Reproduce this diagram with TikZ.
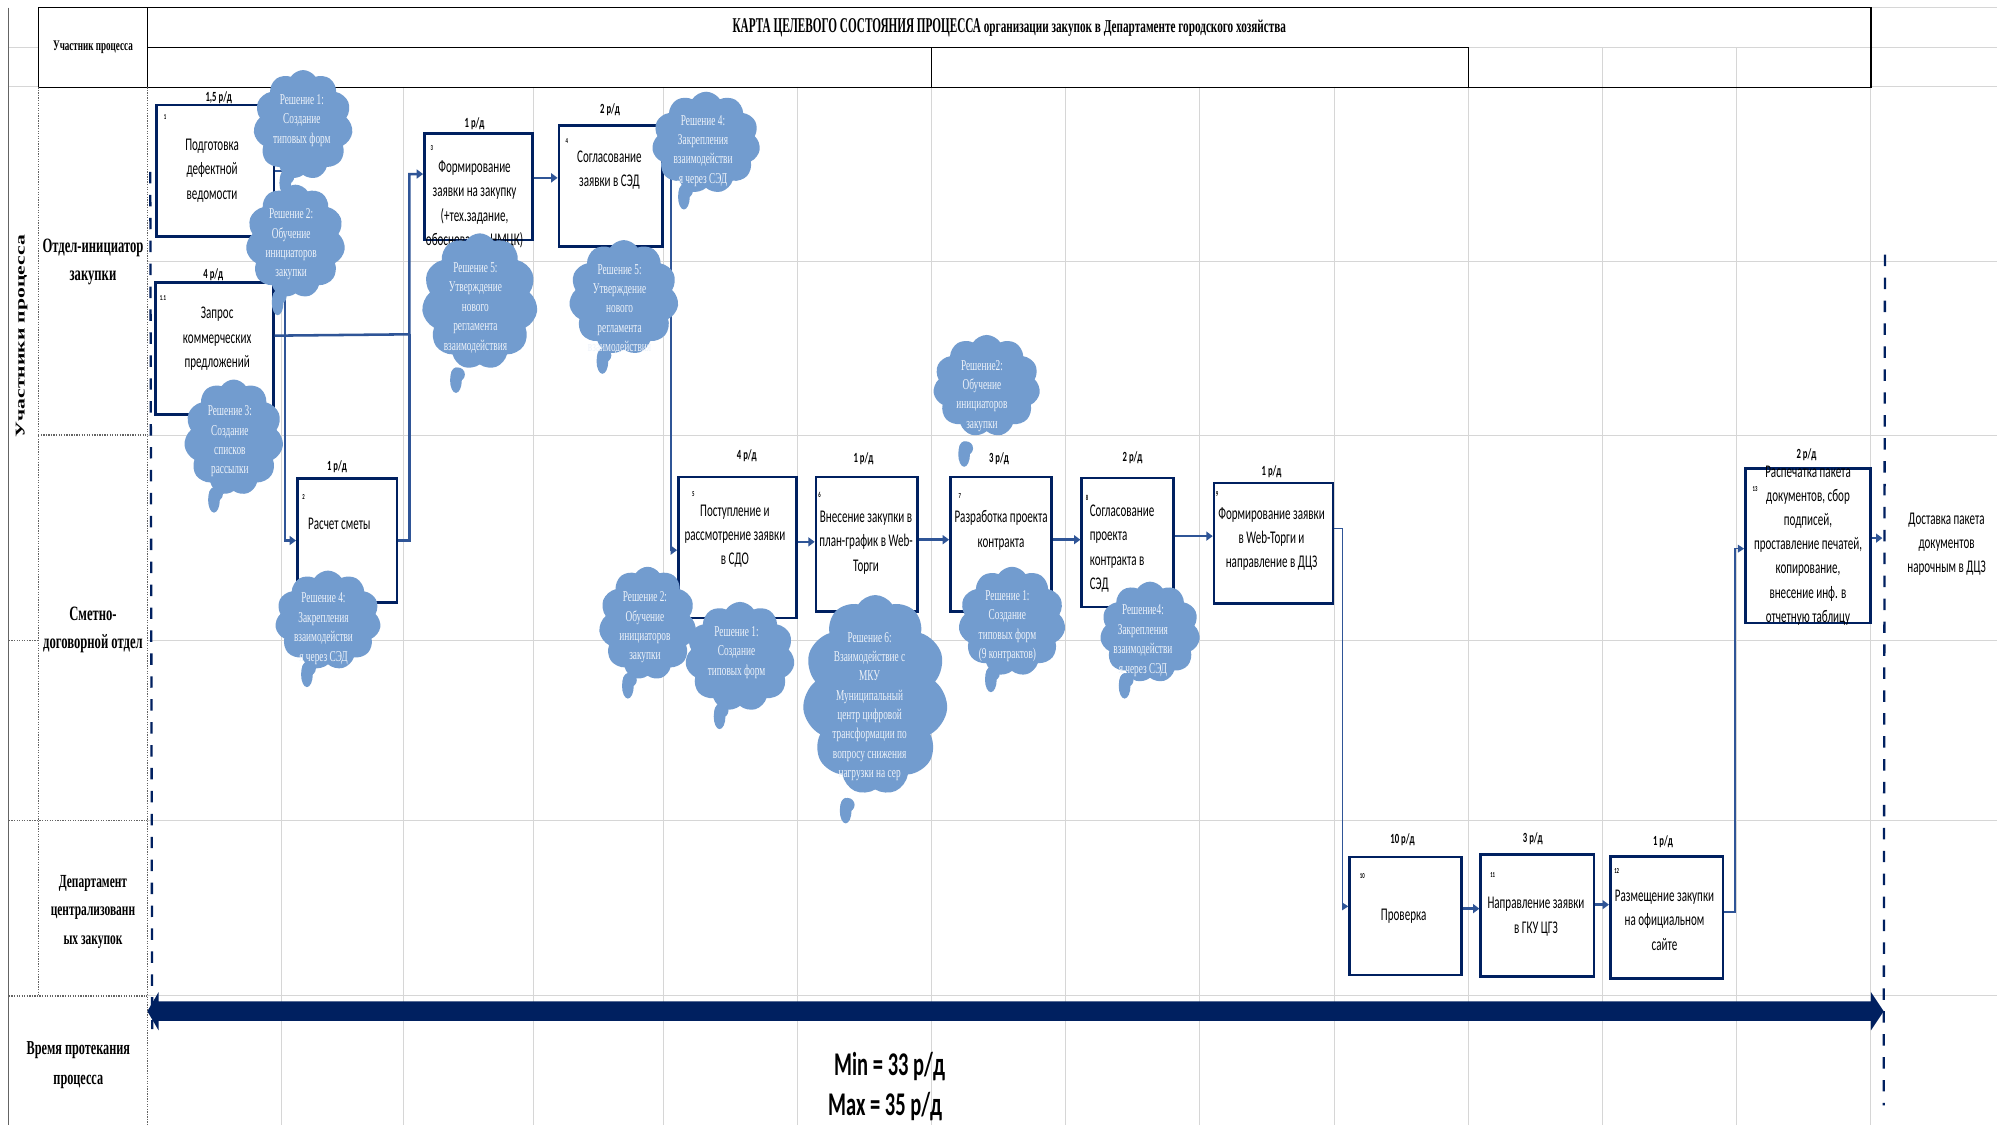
\documentclass[tikz,border=0pt]{standalone}
\usepackage{graphicx}
\usepackage{fontspec}
\usetikzlibrary{shapes.symbols,arrows.meta,calc}
\newfontfamily\cbox[FakeStretch=0.62]{Carlito}
\newfontfamily\cser[FakeStretch=0.62]{Liberation Serif}
\newfontfamily\nser{Liberation Serif}
\definecolor{navy}{RGB}{0,32,96}
\definecolor{connblue}{RGB}{47,85,151}
\definecolor{cloudblue}{RGB}{114,156,207}
\definecolor{cloudtxt}{RGB}{238,243,250}
\definecolor{gridc}{RGB}{214,214,214}
\definecolor{lblc}{RGB}{100,100,100}
\newcommand\procbox[5]{\node[proc, minimum width={(#4)-(#2)}, minimum height={(#5)-(#3)}] (#1) at (#2,#3) {};}
% cloud: name, cx, cy, w, h, tail x, tail tip y
\newcommand\solcloud[7]{%
  \coordinate (#1p) at (#6,#7);
  \fill[cloudblue] ([yshift=9.5pt]#1p) ellipse [x radius=4.6pt, y radius=10pt];
  \fill[cloudblue] ([yshift=14pt,xshift=1.5pt]#1p) circle [radius=5.5pt];
  \node[cloudc, minimum width=#4pt, minimum height=#5pt] (#1) at (#2,#3) {};}
\begin{document}
\begin{tikzpicture}[x=1pt,y=-1pt,
  proc/.style={draw=navy, line width=2pt, fill=white, inner sep=0pt, anchor=north west},
  ptext/.style={font=\cbox\fontsize{14}{19}\selectfont, align=center, inner sep=0pt},
  pnum/.style={font=\cbox\bfseries\fontsize{6}{7}\selectfont, inner sep=0pt},
  pdur/.style={font=\cbox\bfseries\fontsize{11}{12}\selectfont, inner sep=0pt},
  cn/.style={draw=connblue, line width=2pt, -{Triangle[length=5pt,width=7pt]}},
  cnt/.style={draw=connblue, line width=1.2pt, -{Triangle[length=5pt,width=6pt]}},
  cnl/.style={draw=connblue, line width=2pt},
  gridline/.style={draw=gridc, line width=0.8pt},
  dotline/.style={draw=lblc, line width=1pt, densely dotted},
  dashln/.style={draw=navy, line width=1.8pt, dash pattern=on 9pt off 9pt},
  lane/.style={font=\cser\bfseries\fontsize{16}{22}\selectfont, align=center, inner sep=0pt},
  lanes/.style={font=\cser\bfseries\fontsize{14.5}{22.2}\selectfont, align=center, inner sep=0pt},
  cloudc/.style={cloud, cloud puffs=11, cloud puff arc=115, cloud ignores aspect,
    fill=cloudblue, draw=none, inner sep=0pt},
  ctext/.style={font=\cser\fontsize{11.8}{15.2}\selectfont, text=cloudtxt, align=center, inner sep=0pt}
]
\useasboundingbox (0,0) rectangle (1568,883);
\fill[white] (0,0) rectangle (1568,883);

% ---------- grid ----------
\foreach \x in {220.8,316.9,419,521,626.4,731.6,836.7,942,1047.8,1153,1258,1363.6,1469}
  \draw[gridline] (\x,68) -- (\x,883);
\foreach \y in {205,341.6,503,644.4,782}
  \draw[gridline] (115.6,\y) -- (1568,\y);
\draw[gridline] (1469,6) -- (1568,6);
\draw[gridline] (1469,37) -- (1568,37);
\draw[gridline] (1469,68) -- (1568,68);
\draw[gridline] (1153,37) -- (1469,37);
\draw[gridline] (1258,37) -- (1258,68);
\draw[gridline] (1363.6,37) -- (1363.6,68);
\draw[gridline] (7,37) -- (30,37);
\draw[gridline] (7,68) -- (30,68);
% header
\draw[black, line width=1pt] (30,6) rectangle (1469,68.5);
\draw[black, line width=1pt] (115.6,6) -- (115.6,68.5);
\draw[black, line width=0.9pt] (115.6,37) -- (1153,37);
\draw[black, line width=0.9pt] (731.6,37) -- (731.6,68.5);
\draw[black, line width=0.9pt] (1153,37) -- (1153,68.5);
% left columns
\draw[draw=lblc, line width=0.8pt] (7,6) -- (7,883);
\draw[dotline] (30,68.5) -- (30,782);
\draw[dotline] (115.6,68.5) -- (115.6,883);
\draw[dotline] (30,341.6) -- (115.6,341.6);
\draw[dotline] (7,503) -- (30,503);
\draw[dotline] (7,644.4) -- (115.6,644.4);
\draw[dotline] (7,782) -- (115.6,782);

% ---------- header texts ----------
\node[font=\cser\bfseries\fontsize{11.5}{12}\selectfont, inner sep=0pt] (hdr) at (73,37.5) {Участник процесса};
\node[font=\cser\bfseries, inner sep=0pt] (title) at (792.5,22)
  {\fontsize{16.5}{16}\selectfont\scalebox{0.86}[1]{КАРТА ЦЕЛЕВОГО СОСТОЯНИЯ ПРОЦЕССА}\fontsize{14.2}{14}\selectfont{} организации закупок в Департаменте городского хозяйства};
\node[rotate=90, inner sep=0pt] (vlab) at (17,264)
  {\scalebox{1}[0.62]{\nser\bfseries\fontsize{17}{17}\selectfont Участники процесса}};
\node[lane] (l1) at (73,206) {Отдел-инициатор\\закупки};
\node[lane] (l2) at (73,494.5) {Сметно-\\договорной отдел};
\node[lanes] (l3) at (73,716) {Департамент\\централизованн\\ых закупок};
\node[font=\cser\bfseries\fontsize{15.5}{23.6}\selectfont, align=center, inner sep=0pt] (l4) at (61.5,836) {Время протекания\\процесса};

% ---------- dashed boundaries ----------
\draw[dashln] (118,135) -- (119.5,808);
\draw[dashln] (1480,200) -- (1479,868);

% ---------- time arrow ----------
\fill[navy] (115.7,794) -- (124.5,779) -- (124.5,786.3) -- (1469,786.3) -- (1469,779)
  -- (1479,794) -- (1469,809) -- (1469,801.5) -- (124.5,801.5) -- (124.5,809) -- cycle;
\node[font=\cbox\bfseries\fontsize{26}{26}\selectfont, inner sep=0pt] (tmin) at (698.5,837.5) {Min = 33 р/д};
\node[font=\cbox\bfseries\fontsize{26}{26}\selectfont, inner sep=0pt] (tmax) at (695,869) {Max = 35 р/д};

% ---------- process boxes ----------
\procbox{b1}{122}{81.6}{214}{184.8}
\procbox{b1a}{121}{220.6}{213.7}{324.5}
\procbox{b2}{232.4}{374.8}{310.6}{472}
\procbox{b3}{332.2}{103.9}{417}{187.4}
\procbox{b4}{437.8}{97.4}{519.3}{192.4}
\procbox{b5}{531.6}{373.7}{624.6}{484.2}
\procbox{b6}{639.7}{373.5}{719.3}{479}
\procbox{b7}{745.2}{373.5}{824.5}{479}
\procbox{b8}{848.3}{374.3}{920.2}{475.6}
\procbox{b9}{952.2}{378.2}{1045.6}{472.9}
\procbox{b13}{1369.5}{366.9}{1467.8}{488.1}
\procbox{b10}{1058.7}{671.8}{1146.6}{764.7}
\procbox{bb11}{1161.6}{670}{1250.5}{765.8}
\procbox{b12}{1263.3}{671.6}{1351.7}{767.4}

% durations
\node[pdur] (d1) at (171.8,76.7) {1,5 р/д};
\node[pdur] (d1a) at (167.5,216) {4 р/д};
\node[pdur] (d2) at (264.6,366.4) {1 р/д};
\node[pdur] (d3) at (372.6,97.4) {1 р/д};
\node[pdur] (d4) at (479,86.4) {2 р/д};
\node[pdur] (d5) at (586.4,357.8) {4 р/д};
\node[pdur] (d6) at (678,360.4) {1 р/д};
\node[pdur] (d7) at (784.4,360.4) {3 р/д};
\node[pdur] (d8) at (889.3,359.4) {2 р/д};
\node[pdur] (d9) at (998.4,370.3) {1 р/д};
\node[pdur] (d13) at (1418.4,357.3) {2 р/д};
\node[pdur] (d10) at (1101.2,659) {10 р/д};
\node[pdur] (d11) at (1203.5,658.2) {3 р/д};
\node[pdur] (d12) at (1305.7,660.8) {1 р/д};

% numbers
\node[pnum] (n1) at (129.6,91.6) {1};
\node[pnum] (n1a) at (128,233.7) {1.1};
\node[pnum] (n2) at (238.3,390) {2};
\node[pnum] (n3) at (339,116.5) {3};
\node[pnum] (n4) at (445,111) {4};
\node[pnum] (n5) at (544.4,387.9) {5};
\node[pnum] (n6) at (643.5,388.7) {6};
\node[pnum] (n7) at (753.6,389.5) {7};
\node[pnum] (n8) at (853.5,391.3) {8};
\node[pnum] (n9) at (955.6,387.9) {9};
\node[pnum] (n13) at (1378,384.2) {13};
\node[pnum] (n10) at (1069.7,687.5) {10};
\node[pnum] (n11) at (1172,686.8) {11};
\node[pnum] (n12) at (1269.4,683.6) {12};

% box texts
\node[ptext] (t1) at (166.5,134) {Подготовка\\дефектной\\ведомости};
\node[ptext] (t1a) at (170.5,266) {Запрос\\коммерческих\\предложений};
\node[ptext] (t2) at (266.4,411.4) {Расчет сметы};
\node[ptext] (t3) at (372.6,160.5) {Формирование\\заявки на закупку\\(+тех.задание,\\обоснование НМЦК)};
\node[ptext] (t4) at (478.5,133.5) {Согласование\\заявки в СЭД};
\node[ptext] (t5) at (577,421) {Поступление и\\рассмотрение заявки\\в СДО};
\node[ptext] (t6) at (680,426) {Внесение закупки в\\план-график в Web-\\Торги};
\node[ptext] (t7) at (786,416.5) {Разработка проекта\\контракта};
\node[ptext, align=left, anchor=west] (t8) at (855.5,430.7) {Согласование\\проекта\\контракта в\\СЭД};
\node[ptext] (t9) at (998.4,423.3) {Формирование заявки\\в Web-Торги и\\направление в ДЦЗ};
\node[ptext] (t13) at (1419.6,428.3) {Распечатка пакета\\документов, сбор\\подписей,\\проставление печатей,\\копирование,\\внесение инф. в\\отчетную таблицу};
\node[ptext] (t10) at (1102.1,719.7) {Проверка};
\node[ptext] (t11) at (1206,719.8) {Направление заявки\\в ГКУ ЦГЗ};
\node[ptext] (t12) at (1306.9,722.5) {Размещение закупки\\на официальном\\сайте};
\node[ptext] (tdl) at (1528.4,427.5) {Доставка пакета\\документов\\нарочным в ДЦЗ};

% ---------- connectors ----------
\draw[cn] (b1.east) -- ++(7.6,0) |- (b2.west);
\coordinate (j1) at (321.4,262.5);
\coordinate (k2s) at ([yshift=10pt]b1a.east);
\coordinate (k2e) at ([yshift=10pt]b3.west);
\draw[cn] (k2s) -- (j1) |- (k2e);
\draw[cnl] (b2.east) -| (j1);
\coordinate (k4s) at ([yshift=7pt]b3.east);
\draw[cn] (k4s) -- (k4s -| b4.west);
\coordinate (k5s) at ([yshift=-4pt]b4.north east);
\coordinate (k5e) at ([yshift=-2pt]b5.west);
\draw[cn] (k5s) -- ++(5.4,0) |- (k5e);
\coordinate (k6s) at ([yshift=4.5pt]b5.east);
\draw[cn] (k6s) -- (k6s -| b6.west);
\coordinate (k7s) at ([yshift=3.5pt]b6.east);
\draw[cn] (k7s) -- (k7s -| b7.west);
\coordinate (k8s) at ([yshift=3.5pt]b7.east);
\draw[cn] (k8s) -- (k8s -| b8.west);
\coordinate (k9s) at ([yshift=5pt]b8.east);
\draw[cn] (k9s) -- (k9s -| b9.west);
\coordinate (k10s) at ([yshift=11.5pt]b9.east);
\coordinate (k10e) at ([yshift=7.6pt]b10.west);
\draw[cnt] (k10s) -- ++(6.4,0) |- (k10e);
\coordinate (k11s) at ([yshift=5.8pt]b10.east);
\draw[cn] (k11s) -- (k11s -| bb11.west);
\coordinate (k12s) at ([yshift=8.6pt]bb11.east);
\draw[cn] (k12s) -- (k12s -| b12.west);
\coordinate (k13s) at ([yshift=4.5pt]b12.east);
\coordinate (k13e) at ([yshift=-2.3pt]b13.west);
\draw[cnt] (k13s) -- ++(8.6,0) |- (k13e);
\coordinate (k14s) at ([yshift=6pt]b13.east);
\coordinate (dl) at (1478,421.5);
\draw[cn] (k14s) -- (k14s -| dl);

% ---------- clouds ----------
\solcloud{c1}{238}{98}{78}{86}{224}{153}
\node[ctext] (c1t) at (237,94.5) {Решение 1:\\Создание\\типовых форм};
\solcloud{c2}{232}{189.5}{78}{89}{218}{247}
\node[ctext] (c2t) at (228.6,192) {Решение 2:\\Обучение\\инициаторов\\закупки};
\solcloud{c3}{183.5}{343.5}{78}{91}{168}{402}
\node[ctext] (c3t) at (180.5,346.5) {Решение 3:\\Создание\\списков\\рассылки};
\solcloud{c4}{257.5}{487}{83}{78}{241}{539}
\node[ctext] (c4t) at (254,493.6) {Решение 4:\\Закрепления\\взаимодействи\\я через СЭД};
\solcloud{c5}{376.7}{236.7}{91}{107}{358}{308}
\node[ctext] (c5t) at (373.3,241.7) {Решение 5:\\Утверждение\\нового\\регламента\\взаимодействия};
\solcloud{c6}{489.8}{233.5}{86}{90}{473}{293}
\node[ctext] (c6t) at (486.5,243) {Решение 5:\\Утверждение\\нового\\регламента\\взаимодействия};
\solcloud{c7}{554.4}{112}{85}{80}{537}{164}
\node[ctext] (c7t) at (552,118.4) {Решение 4:\\Закрепления\\взаимодействи\\я через СЭД};
\solcloud{c8}{774.7}{303}{84}{80}{757}{366}
\node[ctext] (c8t) at (771,310.8) {Решение2:\\Обучение\\инициаторов\\закупки};
\solcloud{c9}{508.5}{489.5}{76.5}{89}{493}{548}
\node[ctext] (c9t) at (506.4,492.7) {Решение 2:\\Обучение\\инициаторов\\закупки};
\solcloud{c10}{581}{515.6}{86}{86}{565}{572}
\node[ctext] (c10t) at (578.3,512.3) {Решение 1:\\Создание\\типовых форм};
\solcloud{c11}{687.2}{545.7}{114}{157}{664}{646}
\node[ctext] (c11t) at (682.8,554.7) {Решение 6:\\Взаимодействие с\\МКУ\\Муниципальный\\центр цифровой\\трансформации по\\вопросу снижения\\нагрузки на сер};
\solcloud{c12}{794.6}{488}{84}{86}{778}{543}
\node[ctext] (c12t) at (791,491.6) {Решение 1:\\Создание\\типовых форм\\(9 контрактов)};
\solcloud{c13}{903}{496.4}{78.5}{79.4}{883}{548}
\node[ctext] (c13t) at (897.4,503) {Решение4:\\Закрепления\\взаимодействи\\я через СЭД};
\end{tikzpicture}
\end{document}
